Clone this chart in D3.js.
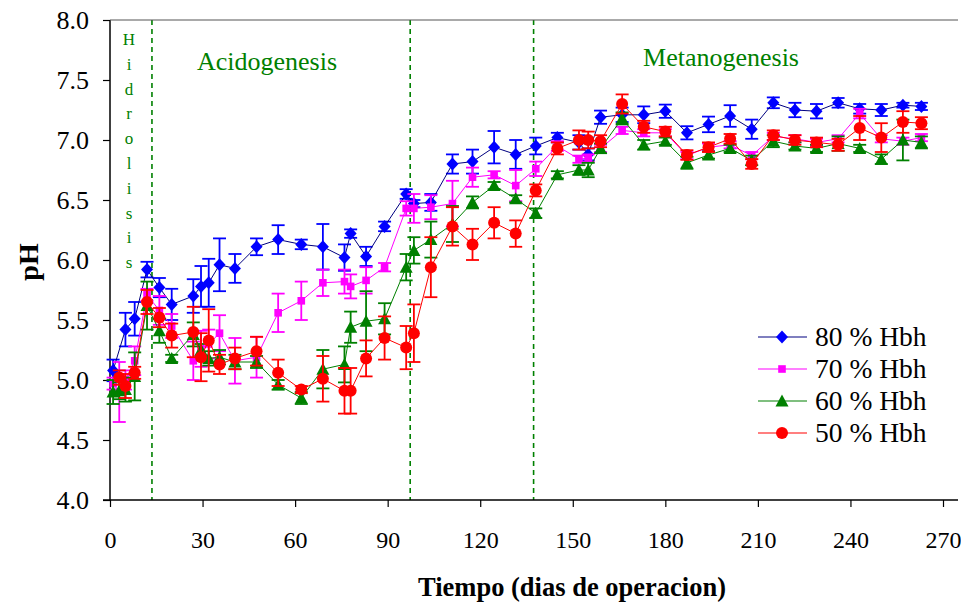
<!DOCTYPE html>
<html><head><meta charset="utf-8">
<script src="https://cdn.jsdelivr.net/npm/d3@7"></script>
<style>body{margin:0;background:#fff}svg{display:block}</style>
</head><body>
<svg id="c" width="961" height="603"></svg>
<script>
const xTicks=[0,30,60,90,120,150,180,210,240,270];
const yTicks=[4.0,4.5,5.0,5.5,6.0,6.5,7.0,7.5,8.0];
const seriesNames=["80 % Hbh","70 % Hbh","60 % Hbh","50 % Hbh"];
const days80=[1,5,8,12,16,20,27,29.5,32,35.5,40.5,47.5,54.5,62,69,76,78,83,89,96,98.5,104,111,117.5,124.5,131.5,138,145,152,155,159,166,173,180,187,194,201,208,215,222,229,236,243,250,257,263];
const ph80=[5.08,5.42,5.51,5.92,5.77,5.63,5.70,5.78,5.81,5.96,5.93,6.11,6.17,6.13,6.11,6.02,6.22,6.03,6.28,6.55,6.47,6.48,6.80,6.82,6.94,6.88,6.95,7.02,6.98,6.88,7.19,7.21,7.21,7.24,7.06,7.13,7.20,7.09,7.31,7.25,7.24,7.31,7.26,7.25,7.29,7.28];
const err80=[0.09,0.14,0.14,0.065,0.08,0.13,0.14,0.17,0.2,0.22,0.12,0.07,0.12,0.04,0.19,0.11,0.035,0.08,0.04,0.04,0.03,0.07,0.08,0.1,0.135,0.12,0.07,0.04,0.06,0.05,0.055,0.06,0.07,0.055,0.055,0.065,0.09,0.08,0.045,0.06,0.06,0.04,0.04,0.05,0.02,0.03];
const days70=[1,3,5,8,12,16,20,27,29.5,32,35.5,40.5,47.5,54.5,62,69,76,78,83,89,96,98.5,104,111,117.5,124.5,131.5,138,145,152,155,159,166,173,180,187,194,201,208,215,222,229,236,243,250,257,263];
const ph70=[4.97,4.90,5.00,5.16,5.71,5.58,5.45,5.16,5.26,5.30,5.39,5.16,5.19,5.56,5.66,5.81,5.82,5.78,5.83,5.94,6.43,6.43,6.44,6.47,6.69,6.71,6.62,6.76,6.95,6.84,6.85,6.93,7.08,7.06,7.06,6.87,6.94,6.96,6.87,7.03,7.01,6.98,7.01,7.22,7.01,6.99,7.02];
const err70=[0.05,0.25,0.08,0.12,0.05,0.12,0.1,0.16,0.15,0.12,0.15,0.19,0.17,0.16,0.16,0.11,0.1,0.1,0.11,0.035,0.06,0.12,0.1,0.19,0.08,0.03,0.13,0.06,0.04,0.03,0.03,0.03,0.03,0.03,0.03,0.03,0.03,0.03,0.03,0.03,0.03,0.03,0.03,0.04,0.03,0.03,0.03];
const days60=days70.slice();
const ph60=[4.90,4.91,4.92,5.03,5.62,5.41,5.18,5.38,5.25,5.18,5.19,5.15,5.15,4.96,4.85,5.09,5.13,5.44,5.49,5.51,5.94,6.08,6.17,6.30,6.48,6.62,6.51,6.39,6.71,6.75,6.75,6.93,7.18,6.96,6.99,6.81,6.875,6.93,6.83,6.99,6.95,6.93,6.97,6.93,6.84,7.0,6.98];
const err60=[0.1,0.07,0.1,0.2,0.2,0.1,0.03,0.1,0.05,0.06,0.06,0.06,0.05,0.04,0.05,0.16,0.15,0.13,0.25,0.13,0.11,0.11,0.15,0.15,0.05,0.03,0.03,0.04,0.03,0.04,0.06,0.04,0.05,0.04,0.03,0.05,0.03,0.03,0.04,0.05,0.03,0.03,0.06,0.03,0.04,0.17,0.05];
const days50=[3,5,8,12,16,20,27,29.5,32,35.5,40.5,47.5,54.5,62,69,76,78,83,89,96,98.5,104,111,117.5,124.5,131.5,138,145,152,155,159,166,173,180,187,194,201,208,215,222,229,236,243,250,257,263];
const ph50=[5.02,4.95,5.06,5.65,5.52,5.37,5.40,5.19,5.33,5.13,5.18,5.24,5.06,4.92,5.01,4.91,4.91,5.18,5.35,5.27,5.39,5.94,6.28,6.13,6.31,6.22,6.58,6.93,7.0,7.0,6.99,7.30,7.11,7.07,6.875,6.94,7.01,6.80,7.04,7.0,6.98,6.96,7.10,7.02,7.15,7.14];
const err50=[0.06,0.1,0.05,0.1,0.08,0.1,0.21,0.2,0.26,0.08,0.09,0.12,0.11,0.03,0.19,0.19,0.19,0.15,0.18,0.18,0.24,0.25,0.16,0.13,0.13,0.11,0.05,0.05,0.08,0.07,0.05,0.08,0.05,0.04,0.04,0.04,0.04,0.04,0.04,0.04,0.04,0.05,0.1,0.12,0.09,0.05];
const phaseDays=[13.6,97.3,137.3];
const phaseLabels=["Acidogenesis","Metanogenesis"];
const hidroLetters=["H","i","d","r","o","l","i","s","i","s"];

const svg=d3.select("#c");
const x=d3.scaleLinear().domain([0,270]).range([110,943]);
const y=d3.scaleLinear().domain([4,8]).range([500,20]);
const serif='"Liberation Serif","Times New Roman",serif';

const series=[
 {name:seriesNames[0],days:days80,v:ph80,e:err80,mk:"#0000FF",ln:"#000080",shape:"diamond"},
 {name:seriesNames[1],days:days70,v:ph70,e:err70,mk:"#FF00FF",ln:"#FF00FF",shape:"square"},
 {name:seriesNames[2],days:days60,v:ph60,e:err60,mk:"#008000",ln:"#008000",shape:"triangle"},
 {name:seriesNames[3],days:days50,v:ph50,e:err50,mk:"#FF0000",ln:"#FF0000",shape:"circle"}
];
function marker(g,shape,color,cx,cy){
  if(shape==="diamond") g.append("path").attr("d",`M${cx},${cy-6.5}L${cx+6},${cy}L${cx},${cy+6.5}L${cx-6},${cy}Z`).attr("fill",color);
  else if(shape==="square") g.append("rect").attr("x",cx-3.8).attr("y",cy-3.8).attr("width",7.6).attr("height",7.6).attr("fill",color);
  else if(shape==="triangle") g.append("path").attr("d",`M${cx},${cy-6.5}L${cx+6.5},${cy+5.5}L${cx-6.5},${cy+5.5}Z`).attr("fill",color);
  else g.append("circle").attr("cx",cx).attr("cy",cy).attr("r",6).attr("fill",color);
}

phaseDays.forEach(d=>{
  svg.append("line").attr("x1",x(d)).attr("x2",x(d)).attr("y1",y(8)).attr("y2",y(4))
    .attr("stroke","#008000").attr("stroke-width",1.6).attr("stroke-dasharray","5,4");
});

const yAxis=d3.axisLeft(y).tickValues(yTicks).tickFormat(d3.format(".1f")).tickSize(7).tickPadding(12);
const gy=svg.append("g").attr("transform","translate(110,0)").call(yAxis);
const xAxis=d3.axisBottom(x).tickValues(xTicks).tickSize(7).tickPadding(24);
const gx=svg.append("g").attr("transform","translate(0,500)").call(xAxis);
[gx,gy].forEach(g=>{
  g.attr("font-family",serif);
  g.select(".domain").remove();
  g.selectAll("line").attr("stroke","#000").attr("stroke-width",1.2);
  g.selectAll("text").attr("fill","#000");
});
gy.attr("font-size",26);
gx.attr("font-size",24);
gy.selectAll("text").attr("dx",-2);
svg.append("line").attr("x1",110).attr("x2",110).attr("y1",20).attr("y2",500).attr("stroke","#000").attr("stroke-width",1.5);
svg.append("line").attr("x1",103).attr("x2",958).attr("y1",500).attr("y2",500).attr("stroke","#000").attr("stroke-width",1.5);
svg.append("line").attr("x1",110).attr("x2",958).attr("y1",20).attr("y2",20).attr("stroke","#555").attr("stroke-width",1);

series.forEach(s=>{
  const g=svg.append("g");
  const pts=s.days.map((d,i)=>({d,v:s.v[i],e:s.e[i]}));
  pts.forEach(p=>{
    const cx=x(p.d),y1=y(p.v+p.e),y2=y(p.v-p.e);
    g.append("line").attr("x1",cx).attr("x2",cx).attr("y1",y1).attr("y2",y2).attr("stroke",s.mk).attr("stroke-width",1.8);
    [y1,y2].forEach(yy=>g.append("line").attr("x1",cx-6.5).attr("x2",cx+6.5).attr("y1",yy).attr("y2",yy).attr("stroke",s.mk).attr("stroke-width",1.8));
  });
  g.append("path").datum(pts).attr("fill","none").attr("stroke",s.ln).attr("stroke-width",1)
    .attr("d",d3.line().x(p=>x(p.d)).y(p=>y(p.v)));
  pts.forEach(p=>marker(g,s.shape,s.mk,x(p.d),y(p.v)));
});

hidroLetters.forEach((L,i)=>{
  svg.append("text").attr("x",129).attr("y",45+i*24.8).attr("text-anchor","middle")
    .attr("font-family",serif).attr("font-size",17).attr("fill","#008000").text(L);
});
svg.append("text").attr("x",267).attr("y",70).attr("text-anchor","middle").attr("font-family",serif)
  .attr("font-size",26).attr("fill","#008000").text(phaseLabels[0]);
svg.append("text").attr("x",721).attr("y",66).attr("text-anchor","middle").attr("font-family",serif)
  .attr("font-size",26).attr("fill","#008000").text(phaseLabels[1]);

series.forEach((s,i)=>{
  const yy=337+i*32;
  const g=svg.append("g");
  g.append("line").attr("x1",758).attr("x2",807).attr("y1",yy).attr("y2",yy).attr("stroke",s.ln).attr("stroke-width",1.2);
  marker(g,s.shape,s.mk,782,yy);
  g.append("text").attr("x",815).attr("y",yy+9).attr("font-family",serif).attr("font-size",27.5).attr("fill","#000").text(s.name);
});

svg.append("text").attr("transform","translate(38,262) rotate(-90)").attr("text-anchor","middle")
  .attr("font-family",serif).attr("font-weight","bold").attr("font-size",28).text("pH");
svg.append("text").attr("x",572).attr("y",596).attr("text-anchor","middle")
  .attr("font-family",serif).attr("font-weight","bold").attr("font-size",26.5).text("Tiempo (dias de operacion)");
</script>
</body></html>
